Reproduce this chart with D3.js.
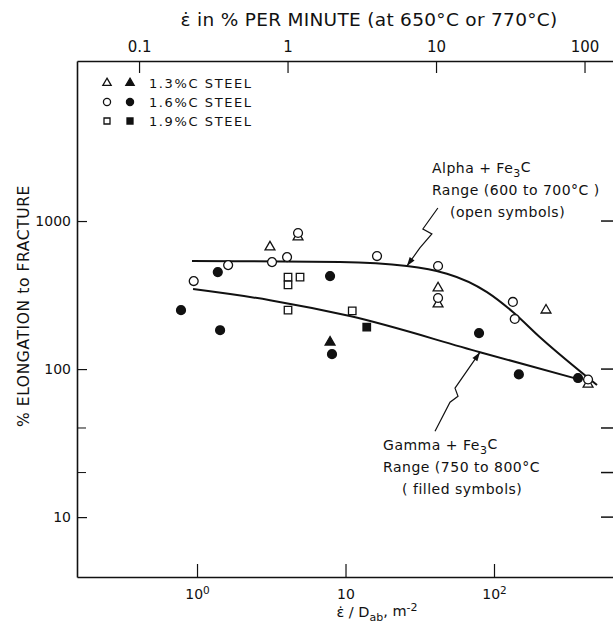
<!DOCTYPE html>
<html>
<head>
<meta charset="utf-8">
<script src="https://cdn.jsdelivr.net/npm/d3@7"></script>
<style>
body { margin: 0; background: #fff; }
text { font-family: "DejaVu Sans", sans-serif; fill: #111; }
</style>
</head>
<body>
<div id="chart"></div>
<script>
// values: [strain rate / D_ab (m^-2), % elongation]
var openTriangles = [[3.1, 667], [4.79, 780], [42, 353], [42, 275], [224, 250], [430, 79]];
var filledTriangles = [[7.87, 152]];
var openCircles = [[0.95, 393], [1.62, 504], [3.2, 528], [4.04, 571], [4.79, 830], [16.3, 580],
                   [42, 497], [42, 302], [134, 284], [138, 218], [430, 85]];
var filledCircles = [[0.78, 250], [1.38, 452], [1.43, 183], [7.87, 425], [8.11, 126],
                     [79.3, 175], [147, 92], [368, 87]];
var openSquares = [[4.1, 418], [4.1, 370], [4.94, 418], [4.1, 250], [11.1, 247]];
var filledSquares = [[13.9, 192]];

// the two hand-drawn trend curves
var alphaCurve = [[0.925, 537], [9.18, 528], [25.9, 497], [89.7, 331], [134, 243], [204, 164], [494, 78]];
var gammaCurve = [[0.94, 347], [3.1, 292], [10.7, 228], [80.5, 130], [368, 85.5]];

// axes
var bottomTicks = [1, 10, 100];
var bottomTickLabels = [["10", "0"], ["10", ""], ["10", "2"]];
var topTicks = [0.1, 1, 10, 100];
var topTickLabels = ["0.1", "1", "10", "100"];
var leftTicks = [10, 100, 1000];
var minorTicks = [20, 40];
var rightTicks = [1000, 100, 40, 20, 10];
var topPerBottom = 0.2457;   // % per minute for one unit of strain rate / D_ab

var legendLabels = ["1.3%C STEEL", "1.6%C STEEL", "1.9%C STEEL"];
var legendShapes = ["triangle", "circle", "square"];

var W = 613, H = 627;
var margin = {top: 61, right: 0, bottom: 50, left: 77};
var width = W - margin.left - margin.right,
    height = H - margin.top - margin.bottom;

var svg = d3.select("#chart")
    .append("svg")
    .attr("width", W)
    .attr("height", H)
    .append("g")
    .attr("transform", "translate(" + margin.left + "," + margin.top + ")");

var x = d3.scaleLog().domain([0.1555, 633]).range([0, width]);
var y = d3.scaleLog().domain([3.94, 12050]).range([height, 0]);
var xTop = d3.scaleLog()
    .domain(x.domain().map(function(d) { return d * topPerBottom; }))
    .range([0, width]);

// bottom axis
var bottom = svg.append("g")
    .attr("transform", "translate(0," + height + ")")
    .call(d3.axisBottom(x).tickValues(bottomTicks).tickSizeInner(-13).tickSizeOuter(0)
        .tickPadding(12).tickFormat(""));
bottom.selectAll(".tick text").each(function(d, i) {
    var t = d3.select(this).text(null);
    t.append("tspan").text(bottomTickLabels[i][0]);
    if (bottomTickLabels[i][1]) {
        t.append("tspan").attr("dy", "-0.45em").style("font-size", "10.5px").text(bottomTickLabels[i][1]);
    }
});

// top axis
var topAxis = svg.append("g")
    .call(d3.axisTop(xTop).tickValues(topTicks).tickSizeInner(-12).tickSizeOuter(0)
        .tickPadding(9).tickFormat(function(d, i) { return topTickLabels[i]; }));

// left axis
svg.append("g")
    .call(d3.axisLeft(y).tickValues(leftTicks).tickSizeInner(-10).tickSizeOuter(0)
        .tickPadding(6).tickFormat(d3.format("d")));
svg.append("g").selectAll("line")
    .data(minorTicks)
    .enter().append("line")
    .attr("x1", 0).attr("x2", 9)
    .attr("y1", function(d) { return y(d); })
    .attr("y2", function(d) { return y(d); })
    .attr("stroke", "#111");

// right side ticks (frame edge falls outside the picture)
svg.append("g").selectAll("line")
    .data(rightTicks)
    .enter().append("line")
    .attr("x1", width - 12).attr("x2", width)
    .attr("y1", function(d) { return y(d); })
    .attr("y2", function(d) { return y(d); })
    .attr("stroke", "#111")
    .attr("stroke-width", 1.5);

svg.selectAll(".domain").attr("stroke", "#111").attr("stroke-width", 1.6);
svg.selectAll(".tick line").attr("stroke", "#111").attr("stroke-width", 1.2);
svg.selectAll(".tick text").style("font-size", "14px").attr("fill", "#111");
topAxis.selectAll(".tick text").style("font-size", "15px");

// curves
var line = d3.line()
    .curve(d3.curveMonotoneX)
    .x(function(d) { return x(d[0]); })
    .y(function(d) { return y(d[1]); });

[alphaCurve, gammaCurve].forEach(function(c) {
    svg.append("path")
        .datum(c)
        .attr("fill", "none")
        .attr("stroke", "#111")
        .attr("stroke-width", 2)
        .attr("d", line);
});

// symbols
function symbolPath(shape, size) {
    var type = shape == "triangle" ? d3.symbolTriangle : shape == "circle" ? d3.symbolCircle : d3.symbolSquare;
    return d3.symbol().type(type).size(size)();
}
var sizes = {triangle: 42, circle: 62, square: 56};

function drawPoints(data, shape, filled) {
    svg.append("g").selectAll("path")
        .data(data)
        .enter().append("path")
        .attr("d", symbolPath(shape, sizes[shape]))
        .attr("transform", function(d) { return "translate(" + x(d[0]) + "," + y(d[1]) + ")"; })
        .attr("fill", filled ? "#111" : "#fff")
        .attr("stroke", "#111")
        .attr("stroke-width", 1.3);
}
drawPoints(openTriangles, "triangle", false);
drawPoints(filledTriangles, "triangle", true);
drawPoints(openCircles, "circle", false);
drawPoints(filledCircles, "circle", true);
drawPoints(openSquares, "square", false);
drawPoints(filledSquares, "square", true);

// legend
var legend = svg.append("g").attr("transform", "translate(30,22)");
legendLabels.forEach(function(lab, i) {
    var g = legend.append("g").attr("transform", "translate(0," + (i * 19) + ")");
    var s = {triangle: 30, circle: 40, square: 36}[legendShapes[i]];
    g.append("path").attr("d", symbolPath(legendShapes[i], s))
        .attr("fill", "#fff").attr("stroke", "#111").attr("stroke-width", 1.3);
    g.append("path").attr("d", symbolPath(legendShapes[i], s))
        .attr("transform", "translate(23,0)")
        .attr("fill", "#111").attr("stroke", "#111").attr("stroke-width", 1.3);
    g.append("text").attr("x", 42).attr("dy", "0.36em")
        .style("font-size", "13px").style("letter-spacing", "1.6px").text(lab);
});

// annotation arrows
function squiggleArrow(tip, pts) {
    var px = x(tip[0]), py = y(tip[1]);
    var p = d3.path();
    p.moveTo(px + pts[0][0], py + pts[0][1]);
    pts.slice(1).forEach(function(q) { p.lineTo(px + q[0], py + q[1]); });
    p.lineTo(px, py);
    svg.append("path").attr("d", p.toString())
        .attr("fill", "none").attr("stroke", "#111").attr("stroke-width", 1.2);
    var last = pts[pts.length - 1];
    var ang = Math.atan2(-last[1], -last[0]) * 180 / Math.PI;
    svg.append("path")
        .attr("d", "M0,0L-9,-3L-9,3Z")
        .attr("transform", "translate(" + px + "," + py + ")rotate(" + ang + ")")
        .attr("fill", "#111");
}
squiggleArrow([25.9, 497], [[31, -58], [16, -37], [25, -32], [13, -18]]);
squiggleArrow([80.5, 130], [[-45, 79], [-30, 50], [-22, 44], [-25, 36]]);

function noteText(tx, ty, lines) {
    lines.forEach(function(l, i) {
        var t = svg.append("text")
            .attr("x", x(tx) + l.dx)
            .attr("y", y(ty) + i * 22)
            .style("font-size", "14px")
            .style("letter-spacing", "0.5px");
        l.parts.forEach(function(p) {
            var s = t.append("tspan").text(p.t);
            if (p.sub) s.attr("dy", "0.35em").style("font-size", "11px");
            if (p.back) s.attr("dy", "-0.35em");
        });
    });
}
noteText(38.2, 2110, [
    {dx: 0, parts: [{t: "Alpha + Fe"}, {t: "3", sub: true}, {t: "C", back: true}]},
    {dx: 0, parts: [{t: "Range  (600 to 700°C )"}]},
    {dx: 18, parts: [{t: "(open symbols)"}]}
]);
noteText(17.9, 28.4, [
    {dx: 0, parts: [{t: "Gamma + Fe"}, {t: "3", sub: true}, {t: "C", back: true}]},
    {dx: 0, parts: [{t: "Range  (750 to 800°C"}]},
    {dx: 19, parts: [{t: "( filled symbols)"}]}
]);

// axis titles
svg.append("text")
    .attr("x", 292)
    .attr("y", -35)
    .style("text-anchor", "middle")
    .style("font-size", "18.5px")
    .style("letter-spacing", "0.3px")
    .text("\u03b5\u0307  in % PER MINUTE (at 650°C or 770°C)");

var xt = svg.append("text")
    .attr("x", 300)
    .attr("y", height + 40)
    .style("text-anchor", "middle")
    .style("font-size", "14.5px");
xt.append("tspan").text("\u03b5\u0307 / D");
xt.append("tspan").attr("dy", "0.35em").style("font-size", "11px").text("ab");
xt.append("tspan").attr("dy", "-0.35em").text(", m");
xt.append("tspan").attr("dy", "-0.45em").style("font-size", "11px").text("-2");

svg.append("text")
    .attr("transform", "translate(" + (-48) + "," + (y(100) - 63) + ") rotate(-90)")
    .style("text-anchor", "middle")
    .style("font-size", "15.5px")
    .style("letter-spacing", "0.6px")
    .text("% ELONGATION to FRACTURE");
</script>
</body>
</html>
